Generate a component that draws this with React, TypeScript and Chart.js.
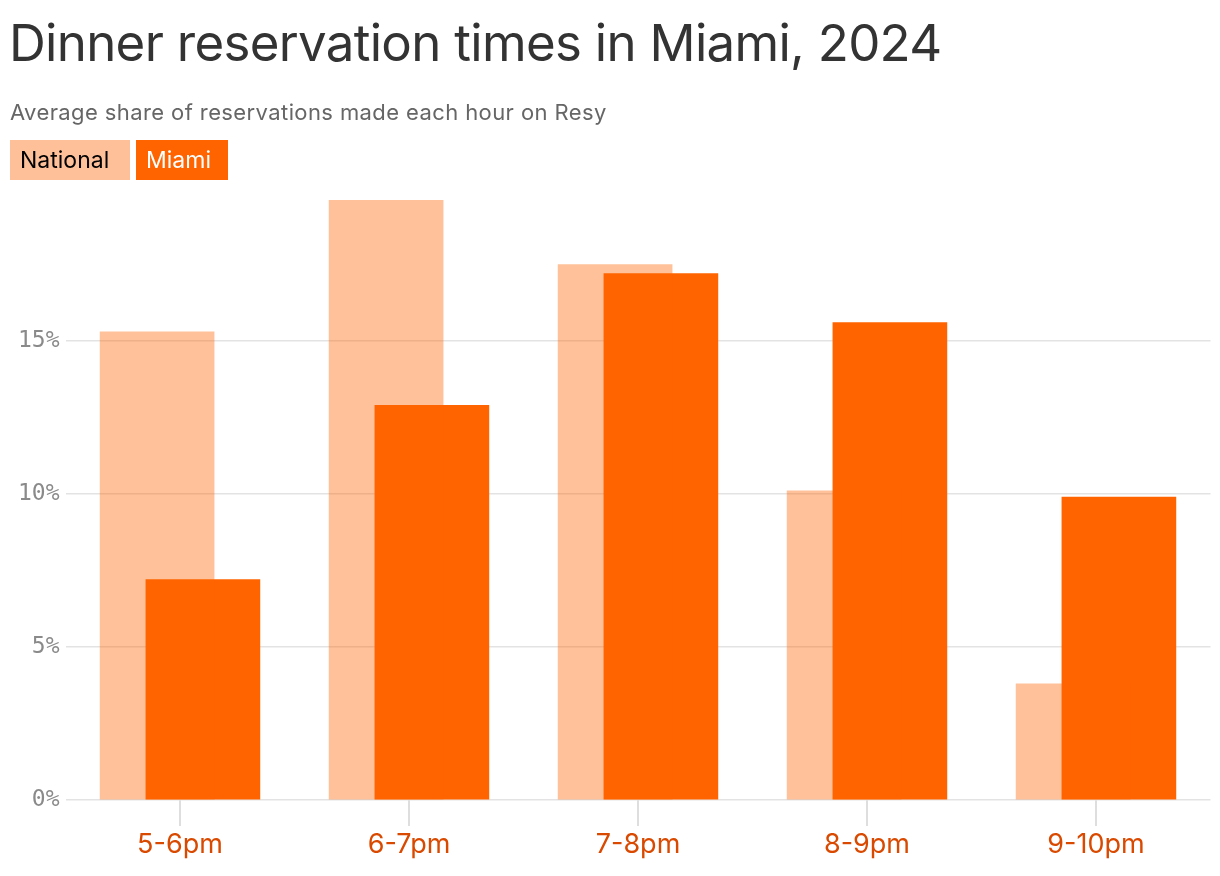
import React, { useEffect, useRef } from "react";
import { Chart, registerables, ChartOptions } from "chart.js";

Chart.register(...registerables);

const hourLabels = ["5-6pm", "6-7pm", "7-8pm", "8-9pm", "9-10pm"];
const nationalShare = [15.3, 19.6, 17.5, 10.1, 3.8];
const miamiShare = [7.2, 12.9, 17.2, 15.6, 9.9];
const yTicks = [0, 5, 10, 15];

const NATIONAL = "#fec099";
const MIAMI = "#ff6400";
const SANS = "Inter, Roboto, 'Noto Sans', sans-serif";

export default function App() {
  const canvasRef = useRef<HTMLCanvasElement>(null);

  useEffect(() => {
    const ctx = canvasRef.current?.getContext("2d");
    if (!ctx) return;

    const options: ChartOptions<"bar"> = {
      responsive: false,
      animation: false,
      layout: { padding: { left: 0, right: 9.5, top: 188, bottom: 0 } },
      plugins: { legend: { display: false }, tooltip: { enabled: false } },
      datasets: { bar: { grouped: false, barThickness: 114 } },
      scales: {
        x: {
          type: "linear",
          min: -0.5,
          max: 4.5,
          offset: false,
          afterBuildTicks: (scale) => {
            scale.ticks = hourLabels.map((_, i) => ({ value: i }));
          },
          afterFit: (scale) => {
            scale.height = 76;
          },
          border: { display: false },
          grid: {
            offset: false,
            drawOnChartArea: false,
            drawTicks: true,
            tickLength: 26,
            color: "#dedede",
            lineWidth: 2,
          },
          ticks: {
            padding: 3,
            color: "#d94a00",
            font: { family: SANS, size: 27 },
            callback: (v) => hourLabels[Number(v)] ?? "",
          },
        },
        y: {
          min: 0,
          max: 20,
          afterBuildTicks: (scale) => {
            scale.ticks = yTicks.map((v) => ({ value: v }));
          },
          afterFit: (scale) => {
            scale.width = 65.5;
          },
          border: { display: false },
          grid: { drawTicks: false, color: "#e3e3e3", lineWidth: 1.6 },
          ticks: {
            padding: 6,
            color: "#8a8a8a",
            font: { family: "'DejaVu Sans Mono', monospace", size: 23 },
            callback: (v) => `${v}%`,
          },
        },
      },
    };

    const chart = new Chart(ctx, {
      type: "bar",
      data: {
        datasets: [
          {
            label: "National",
            data: nationalShare.map((v, i) => ({ x: i - 0.1, y: v })),
            backgroundColor: "rgba(255,100,0,0.4)",
          },
          {
            label: "Miami",
            data: miamiShare.map((v, i) => ({ x: i + 0.1, y: v })),
            backgroundColor: MIAMI,
          },
        ],
      },
      options,
    });

    return () => chart.destroy();
  }, []);

  const legendBox = (bg: string, fg: string, width: number) => ({
    background: bg,
    color: fg,
    fontSize: 23,
    lineHeight: "40px",
    height: 40,
    width,
    paddingLeft: 10,
    boxSizing: "border-box" as const,
  });

  return (
    <div
      style={{
        position: "absolute",
        left: 0,
        top: 0,
        width: 1220,
        height: 876,
        background: "#fff",
        fontFamily: SANS,
      }}
    >
      <canvas
        ref={canvasRef}
        width={1220}
        height={876}
        style={{ position: "absolute", left: 0, top: 0, width: 1220, height: 876 }}
      />
      <div
        style={{
          position: "absolute",
          left: 9,
          top: 13,
          fontSize: 51,
          lineHeight: "60px",
          letterSpacing: "-0.7px",
          color: "#333",
          whiteSpace: "nowrap",
        }}
      >
        Dinner reservation times in Miami, 2024
      </div>
      <div
        style={{
          position: "absolute",
          left: 10,
          top: 98,
          fontSize: 22,
          lineHeight: "28px",
          letterSpacing: "0.4px",
          color: "#666",
          whiteSpace: "nowrap",
        }}
      >
        Average share of reservations made each hour on Resy
      </div>
      <div style={{ position: "absolute", left: 10, top: 140, display: "flex", gap: 6 }}>
        <span style={legendBox(NATIONAL, "#000", 120)}>National</span>
        <span style={legendBox(MIAMI, "#fff", 92)}>Miami</span>
      </div>
    </div>
  );
}
